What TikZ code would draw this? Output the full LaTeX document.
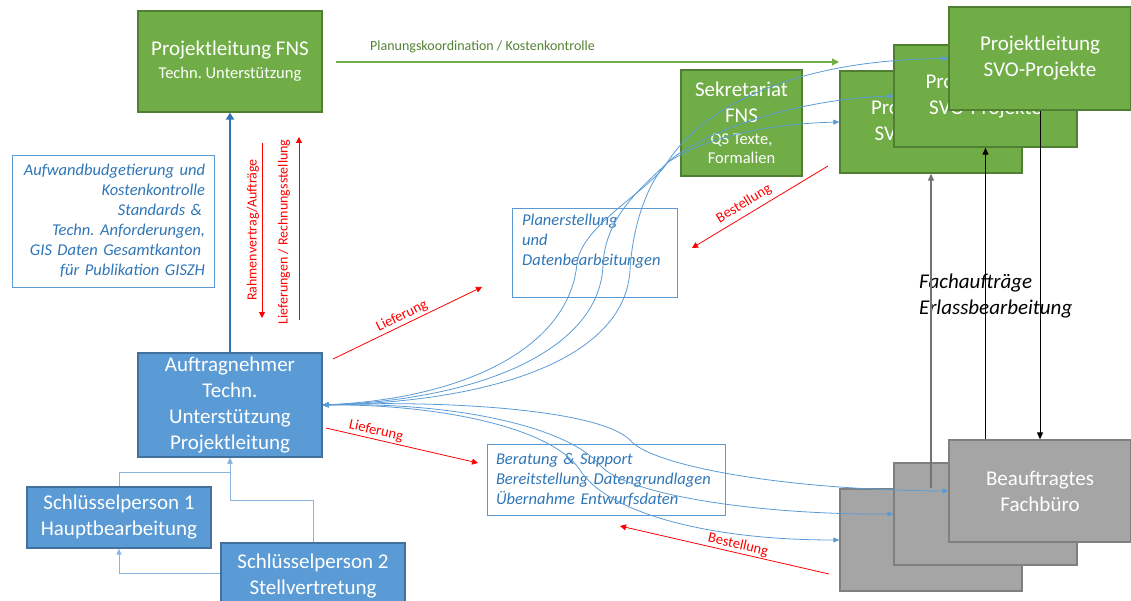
\documentclass[tikz,border=0pt]{standalone}
\usepackage{fontspec}
\setmainfont{Carlito}
\usetikzlibrary{arrows.meta,calc}
\definecolor{gfill}{HTML}{70AD47}
\definecolor{gline}{HTML}{507E32}
\definecolor{bfill}{HTML}{5B9BD5}
\definecolor{bline}{HTML}{41719C}
\definecolor{grfill}{HTML}{A5A5A5}
\definecolor{grline}{HTML}{7F7F7F}
\definecolor{btext}{HTML}{2E75B6}
\definecolor{gtext}{HTML}{548235}
\definecolor{cconn}{HTML}{5B9BD5}
\definecolor{lconn}{HTML}{8AB4E0}
\begin{document}
\frenchspacing
\begin{tikzpicture}[x=1pt,y=1pt,
  greenbox/.style={draw=gline, fill=gfill, line width=1.3pt, text=white, align=center, inner sep=0pt},
  bluebox/.style={draw=bline, fill=bfill, line width=1.3pt, text=white, align=center, inner sep=0pt},
  graybox/.style={draw=grline, fill=grfill, line width=1.3pt, text=white, align=center, inner sep=0pt},
  bigfont/.style={font=\fontsize{21}{26}\selectfont},
  textbox/.style={draw=bfill, line width=0.9pt, text=btext, font=\fontsize{16.5}{20}\selectfont\itshape, inner xsep=9pt, inner ysep=0pt},
  itxt/.style={text=btext, font=\fontsize{16.5}{20}\selectfont\itshape, inner sep=0pt},
  redarrow/.style={draw=red, line width=0.8pt, -{Triangle[width=6pt,length=6pt]}},
  redlbl/.style={text=red, font=\fontsize{14.5}{16}\selectfont, inner sep=0pt},
  curve/.style={draw=cconn, line width=0.8pt, {Triangle[width=5pt,length=6pt]}-{Triangle[width=5pt,length=6pt]}},
  spconn/.style={draw=lconn, line width=1pt, -{Triangle[width=5pt,length=6pt]}},
  blk/.style={draw=black, line width=0.9pt, -{Triangle[width=6pt,length=7pt]}},
  blkg/.style={draw=black!55, line width=1.1pt, -{Triangle[width=6pt,length=7pt]}}
]
\useasboundingbox (0,0) rectangle (1131,-601);

% ---------- left column ----------
\node[greenbox, minimum width=184, minimum height=101, font=\fontsize{16.5}{23}\selectfont] (plfns) at (230,-61.5)
  {{\fontsize{21}{23}\selectfont Projektleitung FNS}\\Techn. Unterstützung};

\node[textbox, minimum width=202, minimum height=132, text width=184, align=right] (budget) at (113,-221)
  {Aufwandbudgetierung und\\Kostenkontrolle\\Standards \&\kern3pt\\Techn. Anforderungen,\\GIS Daten Gesamtkanton\kern4pt\\für Publikation GISZH};

\node[bluebox, bigfont, minimum width=184, minimum height=104] (auf) at (230,-405)
  {Auftragnehmer\\Techn.\\Unterstützung\\Projektleitung};

\node[bluebox, bigfont, minimum width=184, minimum height=61] (sp1) at (119,-517.5)
  {Schlüsselperson 1\\Hauptbearbeitung};
\node[bluebox, bigfont, minimum width=184, minimum height=67] (sp2) at (313,-576.5)
  {Schlüsselperson 2\\Stellvertretung};

% ---------- middle ----------
\node[greenbox, minimum width=121, minimum height=106, font=\fontsize{21}{26}\selectfont] (sek) at (741.5,-123)
  {Sekretariat\\FNS\\[-4pt]{\fontsize{16.5}{20}\selectfont QS Texte,}\\[-7pt]{\fontsize{16.5}{20}\selectfont Formalien}};

\node[draw=bfill, line width=0.9pt, minimum width=165, minimum height=89, inner sep=0pt] (plan) at (594.5,-252.5) {};
\node[itxt, anchor=north west, align=left] (planT) at (522,-214) {Planerstellung\\und\\Datenbearbeitungen};

\node[textbox, minimum width=238, minimum height=71, text width=220, align=left] (ber) at (606,-479.5)
  {Beratung \& Support\\Bereitstellung Datengrundlagen\\Übernahme Entwurfsdaten};

\node[font=\fontsize{14}{16}\selectfont, text=gtext, anchor=base west, inner sep=0pt] (plk) at (370,-51)
  {Planungskoordination / Kostenkontrolle};

% ---------- right stacks ----------
\node[greenbox, bigfont, minimum width=182, minimum height=102] (svo3) at (931,-122) {Projektleitung\\SVO-Projekte};
\node[greenbox, bigfont, minimum width=183, minimum height=102] (svo2) at (985.5,-96) {Projektleitung\\SVO-Projekte};
\node[greenbox, bigfont, minimum width=182, minimum height=103] (svo1) at (1040,-58.5) {Projektleitung\\SVO-Projekte};

\node[graybox, minimum width=182, minimum height=102] (gray3) at (931,-540) {};
\node[graybox, minimum width=183, minimum height=102] (gray2) at (985.5,-514) {};
\node[graybox, bigfont, minimum width=182, minimum height=102] (gray1) at (1040,-491) {Beauftragtes\\Fachbüro};

\node[font=\fontsize{21}{26}\selectfont\itshape, align=left, anchor=west, inner sep=0pt] (fach) at (919,-296)
  {Fachaufträge\\Erlassbearbeitung};

% ---------- connectors ----------
\draw[draw=btext, line width=2.2pt, -{Triangle[width=8pt,length=7pt]}] (auf.north) -- (plfns.south);

\coordinate (g1) at (336,-62);
\coordinate (g2) at (839,-62);
\draw[draw=gfill, line width=1.1pt, -{Triangle[width=7pt,length=7pt]}] (g1) -- (g2);

\coordinate (j1) at (230,-472);
\coordinate (j2) at (230,-500);
\coordinate (j3) at (119,-573);
\draw[spconn] (sp1.north) |- (j1) -- (auf.south);
\draw[spconn] (sp2.north) |- (j2) -- (auf.south);
\draw[spconn] (sp2.west |- j3) -- (j3) -- (sp1.south);

% red arrows
\coordinate (r1s) at (333,-359); \coordinate (r1e) at (482,-287);
\coordinate (r2s) at (326,-428); \coordinate (r2e) at (478,-463);
\coordinate (r3s) at (828,-166); \coordinate (r3e) at (692,-248);
\coordinate (r4s) at (829,-574); \coordinate (r4e) at (620,-526);
\coordinate (r5s) at (262,-143); \coordinate (r5e) at (262,-318);
\coordinate (r6s) at (299,-320); \coordinate (r6e) at (299,-137);
\draw[redarrow] (r1s) -- (r1e);
\draw[redarrow] (r2s) -- (r2e);
\draw[redarrow] (r3s) -- (r3e);
\draw[redarrow] (r4s) -- (r4e);
\draw[redarrow] (r5s) -- (r5e);
\draw[redarrow] (r6s) -- (r6e);
\node[redlbl, rotate=25.8] (l1) at (402,-316) {Lieferung};
\node[redlbl, rotate=-13] (l2) at (376,-431) {Lieferung};
\node[redlbl, rotate=31] (l3) at (744,-204) {Bestellung};
\node[redlbl, rotate=-12.9] (l4) at (738,-545) {Bestellung};
\node[redlbl, font=\fontsize{14}{16}\selectfont, rotate=90] (l5) at (253,-230) {Rahmenvertrag/Aufträge};
\node[redlbl, font=\fontsize{14}{16}\selectfont, rotate=90] (l6) at (284,-232) {Lieferungen / Rechnungsstellung};

% blue curves to green SVO boxes
\draw[curve] (auf.east) .. controls (470,-398) and (570,-345) .. (577,-263)
  .. controls (582,-225) and (650,-190) .. (667,-163)
  .. controls (692,-122) and (770,-60) .. (svo1.west);
\draw[curve] (auf.east) .. controls (480,-400) and (600,-350) .. (603,-265)
  .. controls (605,-215) and (645,-185) .. (667,-163)
  .. controls (690,-140) and (780,-100) .. (svo2.west);
\draw[curve] (auf.east) .. controls (490,-402) and (625,-360) .. (630,-270)
  .. controls (633,-220) and (650,-180) .. (667,-163)
  .. controls (700,-140) and (760,-124) .. (svo3.west);
% blue curves to gray boxes
\draw[curve] (auf.east) .. controls (450,-400) and (600,-410) .. (630,-440)
  .. controls (650,-465) and (780,-490) .. (gray1.west);
\draw[curve] (auf.east) .. controls (450,-402) and (565,-425) .. (600,-465)
  .. controls (625,-495) and (760,-515) .. (gray2.west);
\draw[curve] (auf.east) .. controls (430,-404) and (550,-425) .. (580,-470)
  .. controls (605,-510) and (700,-540) .. (gray3.west);

% black vertical connectors
\draw[blkg] (gray3.north) -- (svo3.south);
\draw[blk] (svo2.south |- gray1.north) -- (svo2.south);
\draw[blk] (svo1.south) -- (gray1.north);
\end{tikzpicture}
\end{document}
